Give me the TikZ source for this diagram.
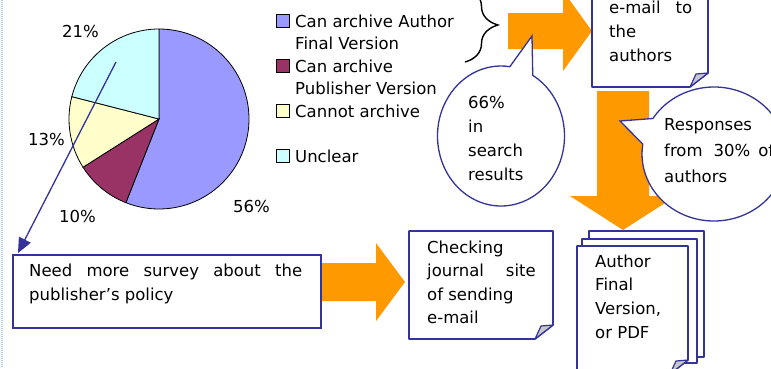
\documentclass[tikz,border=0pt]{standalone}
\usepackage{fontspec}
\setmainfont{DejaVu Sans}
\usetikzlibrary{arrows.meta,decorations.pathreplacing,calc}

\definecolor{piblue}{HTML}{9999FF}
\definecolor{pimaroon}{HTML}{993366}
\definecolor{piyellow}{HTML}{FFFFCC}
\definecolor{picyan}{HTML}{CCFFFF}
\definecolor{linkblue}{HTML}{333399}
\definecolor{flowarrow}{HTML}{FF9900}
\definecolor{foldgrey}{HTML}{C8C8C8}
\definecolor{slideedge}{HTML}{A8D0F8}

\tikzset{
  txt/.style={anchor=base west, inner sep=0pt, align=left,
    font=\fontsize{16.5}{#1}\selectfont},
  txt/.default=23.5,
  sheetline/.style={draw=linkblue, line width=1.6pt, line join=round},
  callout/.style={draw=linkblue, line width=1.3pt, fill=white},
  key/.style={draw=black, line width=0.8pt}
}

% folded sheet: x1, y1, x2, y2
\newcommand{\foldsheet}[4]{%
  \draw[sheetline, fill=white] (#1,#2) -- (#3,#2) -- (#3,#4-14) -- (#3-18,#4) -- (#1,#4) -- cycle;
  \draw[sheetline, fill=foldgrey, line width=1.2pt] (#3,#4-14) -- (#3-12,#4-13) -- (#3-18,#4) -- cycle;}

\begin{document}
\begin{tikzpicture}[x=1pt,y=-1pt]
    \useasboundingbox (0,0) rectangle (771,368);
    \clip (0,0) rectangle (771,368);
    \draw[slideedge, line width=2pt, dash pattern=on 1pt off 1pt] (1.5,0) -- (1.5,368);

    %Pie
    \coordinate (pie) at (159,119);
    \foreach \from/\to/\col in {-90/111.6/piblue, 111.6/147.6/pimaroon, 147.6/194.4/piyellow, 194.4/270/picyan}
      \filldraw[fill=\col, key] (pie) -- ($(pie)+(\from:90)$)
        arc[start angle=\from, end angle=\to, radius=90] -- cycle;

    \node[txt] (pct21) at (62,37) {21\%};
    \node[txt] (pct13) at (28,145) {13\%};
    \node[txt] (pct10) at (59,222) {10\%};
    \node[txt] (pct56) at (233,212) {56\%};

    %Legend (base = last line)
    \draw[key, fill=piblue] (276,14) rectangle (289,27);
    \draw[key, fill=pimaroon] (276,59) rectangle (289,72);
    \draw[key, fill=piyellow] (276,104) rectangle (289,117);
    \draw[key, fill=picyan] (276,149) rectangle (289,162);
    \node[txt=22.5] (legauthor) at (295,49.5) {Can archive Author\\Final Version};
    \node[txt=22.5] (legpublisher) at (295,94.5) {Can archive\\Publisher Version};
    \node[txt] (legcannot) at (295,117) {Cannot archive};
    \node[txt] (legunclear) at (295,162) {Unclear};

    \draw[line width=1.4pt, decorate, decoration={brace, amplitude=33pt}] (465,-12) -- (465,62);

    %Flow arrows
    \fill[flowarrow] (508,13) -- (563,13) -- (563,-9) -- (592,31) -- (563,71) -- (563,49) -- (508,49) -- cycle;
    \fill[flowarrow] (597,91) -- (649,91) -- (649,196) -- (676,196) -- (623,230) -- (570,196) -- (597,196) -- cycle;
    \fill[flowarrow] (322,263) -- (376,263) -- (376,243) -- (405,282) -- (376,321) -- (376,301) -- (322,301) -- cycle;

    %Survey box and pointer
    \node[draw=linkblue, line width=1.6pt, minimum width=308, minimum height=73,
      anchor=north west, inner sep=0pt] (survey) at (12,254) {};
    \node[txt=24.5] (surveytxt) at (29,300.5) {\makebox[273pt][s]{Need more survey about the}\\publisher's policy};
    \coordinate (pietail) at (116,62);
    \draw[linkblue, line width=1.3pt, -{Triangle[length=15pt,width=13pt]}] (pietail) -- ($(survey.north west)+(6,-1)$);

    %Callouts
    \coordinate (hitbubble) at (501,136);
    \draw[callout] (532,36) -- ($(hitbubble)+(-60:63.5 and 70)$)
      arc[start angle=-60, end angle=278, x radius=63.5, y radius=70] -- cycle;
    \node[txt=24] (hits) at (468,180) {66\%\\in\\search\\results};

    \coordinate (replybubble) at (714,154);
    \draw[callout] (620,121) -- ($(replybubble)+(212:72 and 67)$)
      arc[start angle=212, end angle=548.5, x radius=72, y radius=67] -- cycle;
    \node[txt=26] (replies) at (664,182.5) {Responses\\from\hspace{11pt}30\%\hspace{8pt}of\\authors};

    %Sheets
    \foldsheet{592}{-5}{708}{87}
    \node[txt=24] (mailtxt) at (609,61.5) {e-mail\hspace{15pt}to\\the\\authors};

    \foldsheet{409}{231}{553}{339}
    \node[txt] (checktxt) at (427,323.5) {Checking\\journal\hspace{22pt}site\\of sending\\e-mail};

    \draw[sheetline, fill=white] (589,231) rectangle (704,357);
    \draw[sheetline, fill=white] (582,239) rectangle (697,363);
    \foldsheet{577}{246}{688}{374}
    \node[txt=23.8] (authortxt) at (595,338.5) {Author\\Final\\Version,\\or PDF};
  \end{tikzpicture}
\end{document}
